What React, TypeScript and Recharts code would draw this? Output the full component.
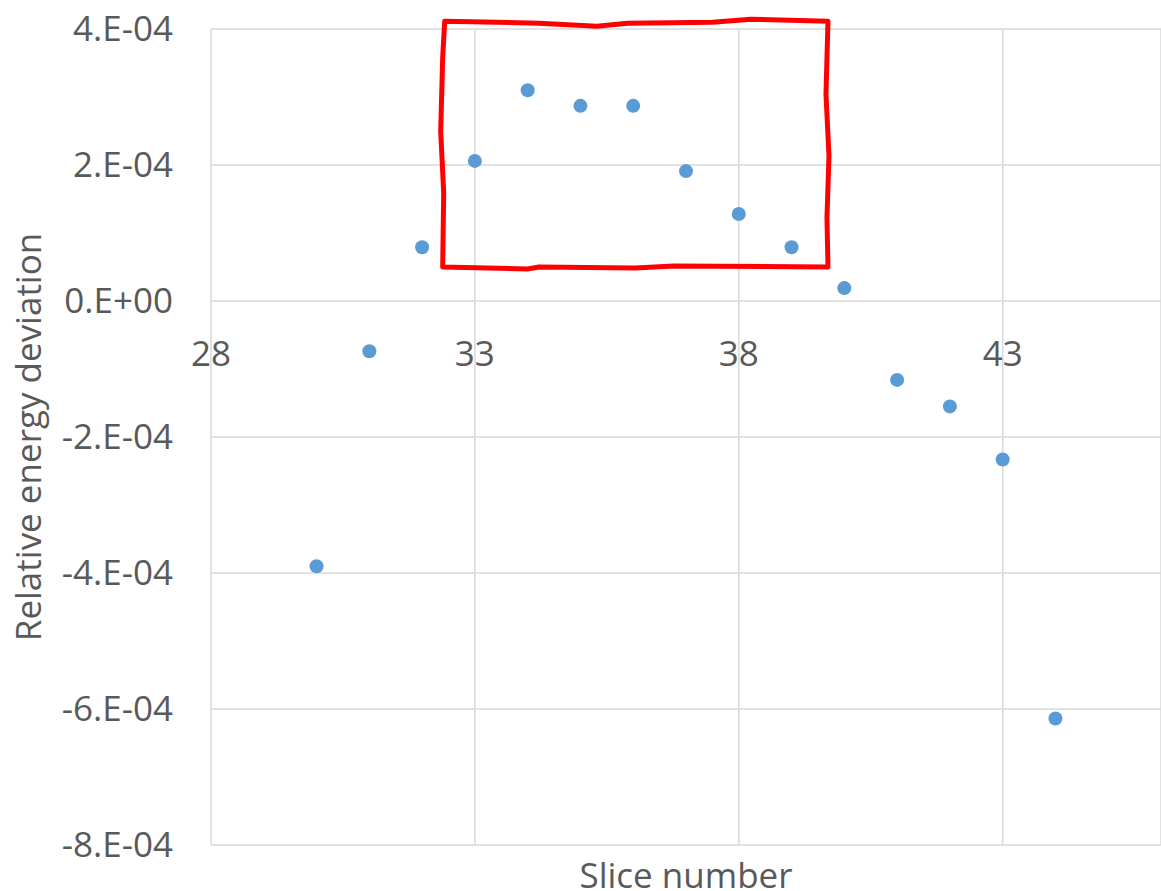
import React from "react"
import { ScatterChart, Scatter, XAxis, YAxis, CartesianGrid, ReferenceArea } from "recharts"

const sliceNumbers = [30, 31, 32, 33, 34, 35, 36, 37, 38, 39, 40, 41, 42, 43, 44]
const deviations = [
  -3.9e-4, -0.74e-4, 0.79e-4, 2.06e-4, 3.1e-4, 2.87e-4, 2.87e-4, 1.91e-4,
  1.28e-4, 0.79e-4, 0.19e-4, -1.16e-4, -1.55e-4, -2.33e-4, -6.14e-4,
]
const xTicks = [28, 33, 38, 43]
const yTicks = [-8e-4, -6e-4, -4e-4, -2e-4, 0, 2e-4, 4e-4]
// highlighted region (slice from, slice to, deviation low, deviation high)
const highlight = [32.39, 39.69, 0.5e-4, 4.13e-4]

const X_DOMAIN: [number, number] = [28, 46]
const Y_DOMAIN: [number, number] = [-8e-4, 4e-4]

const W = 1161
const H = 891
const TOP = 29
const BOTTOM_AXIS = 46
const PLOT_H = H - TOP - BOTTOM_AXIS
const TEXT = "#595959"
const FONT = "'Open Sans', 'Liberation Sans', sans-serif"

const data = sliceNumbers.map((s, i) => ({ slice: s, dev: deviations[i] }))

function sci(v: number) {
  if (v === 0) return "0.E+00"
  const exp = Math.floor(Math.log10(Math.abs(v)) + 1e-9)
  const mant = Math.round(v / Math.pow(10, exp))
  return `${mant}.E${exp < 0 ? "-" : "+"}${String(Math.abs(exp)).padStart(2, "0")}`
}

// x labels sit just under the zero line, as in Excel's crossing axis
const zeroY = TOP + (PLOT_H * (Y_DOMAIN[1] - 0)) / (Y_DOMAIN[1] - Y_DOMAIN[0])

function SliceTick(props: any) {
  const { x, payload } = props
  return (
    <text x={x} y={zeroY + 51} textAnchor="middle" dominantBaseline="central" fill={TEXT} fontSize={35} fontFamily={FONT}>
      {payload.value}
    </text>
  )
}

function Dot(props: any) {
  return <circle cx={props.cx} cy={props.cy} r={7} fill="#5b9bd5" />
}

function WobblyBox(props: any) {
  const { x, y, width, height } = props
  const r = x + width
  const b = y + height
  const d = [
    `M ${x + 2} ${y + 1}`,
    `L ${x + width * 0.25} ${y + 3}`,
    `L ${x + width * 0.4} ${y + 6}`,
    `L ${x + width * 0.48} ${y + 3}`,
    `L ${x + width * 0.7} ${y + 2}`,
    `L ${x + width * 0.8} ${y - 1}`,
    `L ${r} ${y + 1}`,
    `L ${r - 2} ${y + height * 0.3}`,
    `L ${r + 1} ${y + height * 0.55}`,
    `L ${r - 1} ${y + height * 0.8}`,
    `L ${r} ${b}`,
    `L ${x + width * 0.6} ${b - 1}`,
    `L ${x + width * 0.5} ${b + 1}`,
    `L ${x + width * 0.25} ${b}`,
    `L ${x + width * 0.22} ${b + 2}`,
    `L ${x} ${b}`,
    `L ${x + 1} ${y + height * 0.7}`,
    `L ${x - 2} ${y + height * 0.45}`,
    `L ${x} ${y + height * 0.15}`,
    `Z`,
  ].join(" ")
  return <path d={d} fill="none" stroke="#ff0000" strokeWidth={5} strokeLinejoin="round" />
}

export default function App() {
  return (
    <div style={{ position: "absolute", left: 0, top: 0, width: W, height: H, background: "#fff" }}>
      <ScatterChart width={W} height={H} margin={{ top: TOP, right: 0, bottom: 0, left: 0 }}>
        <CartesianGrid stroke="#d9d9d9" strokeWidth={1.5} />
        <XAxis
          type="number"
          dataKey="slice"
          domain={X_DOMAIN}
          ticks={xTicks}
          allowDataOverflow
          axisLine={false}
          tickLine={false}
          tickSize={0}
          height={BOTTOM_AXIS}
          tick={<SliceTick />}
          label={{ value: "Slice number", position: "insideBottom", offset: 3, fill: TEXT, fontSize: 35, fontFamily: FONT }}
        />
        <YAxis
          type="number"
          dataKey="dev"
          domain={Y_DOMAIN}
          ticks={yTicks}
          allowDataOverflow
          width={211}
          axisLine={false}
          tickLine={false}
          tickSize={0}
          tickMargin={38}
          tickFormatter={sci}
          tick={{ fill: TEXT, fontSize: 35, fontFamily: FONT }}
          label={{
            value: "Relative energy deviation",
            angle: -90,
            position: "insideLeft",
            offset: 29,
            fill: TEXT,
            fontSize: 35,
            fontFamily: FONT,
            style: { textAnchor: "middle" },
          }}
        />
        <Scatter data={data} shape={<Dot />} isAnimationActive={false} />
        <ReferenceArea
          x1={highlight[0]}
          x2={highlight[1]}
          y1={highlight[2]}
          y2={highlight[3]}
          ifOverflow="visible"
          shape={<WobblyBox />}
        />
      </ScatterChart>
    </div>
  )
}
